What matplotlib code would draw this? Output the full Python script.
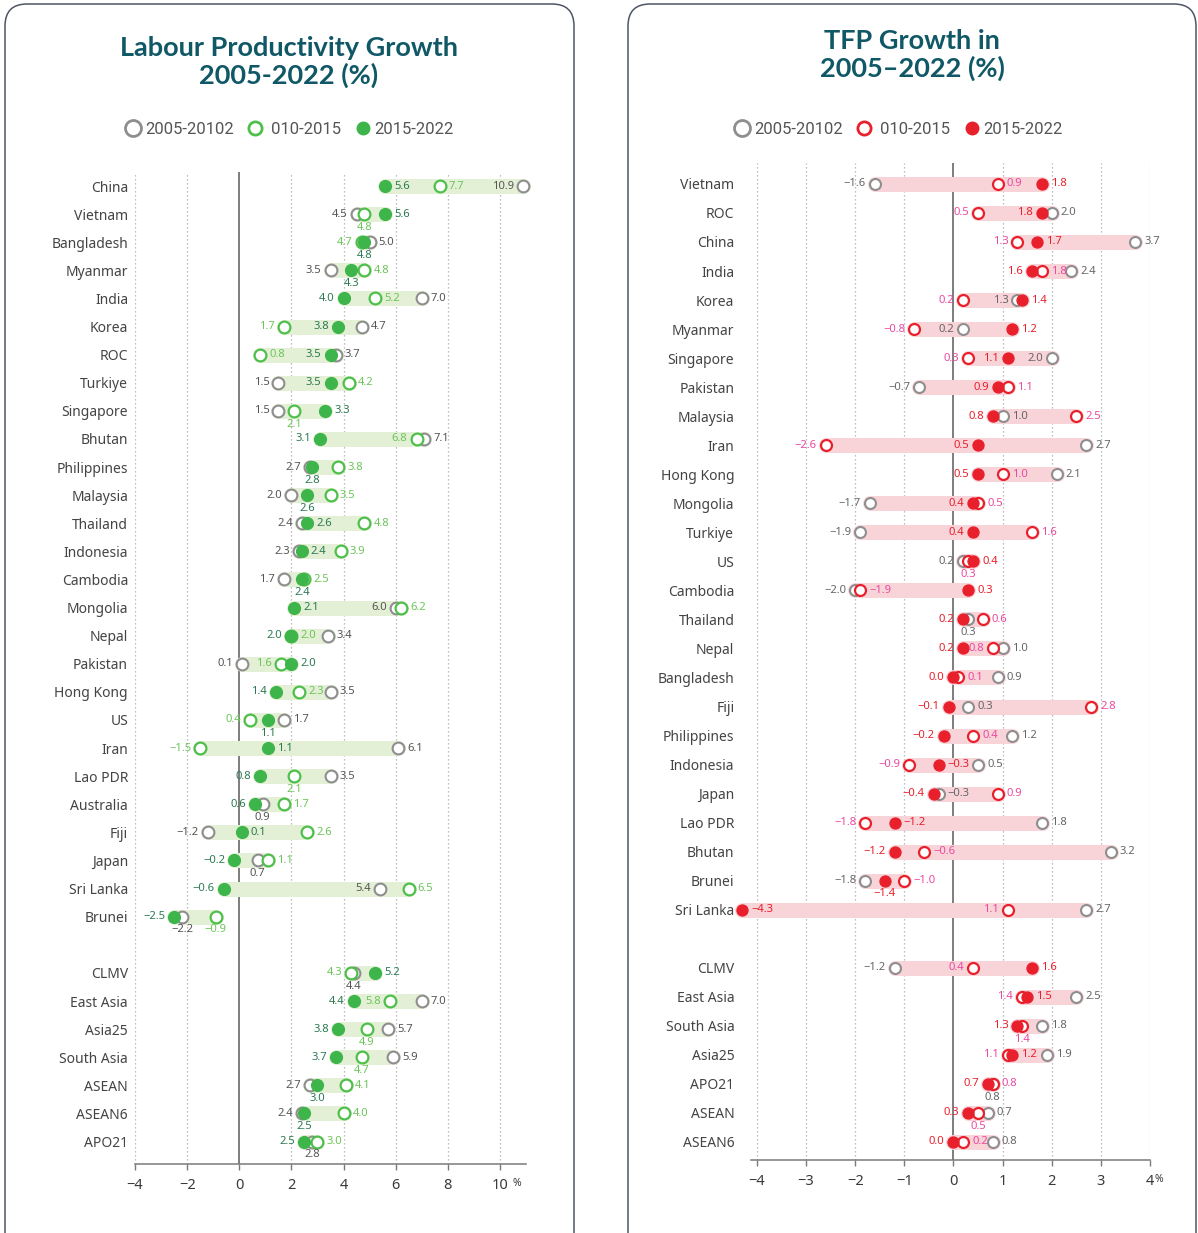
import matplotlib
matplotlib.use("Agg")
import matplotlib.pyplot as plt
from matplotlib.lines import Line2D
from matplotlib.patches import FancyBboxPatch
from matplotlib.transforms import IdentityTransform

# ---------------- Labour productivity growth (left) ----------------
lp_names = ["China", "Vietnam", "Bangladesh", "Myanmar", "India", "Korea", "ROC",
            "Turkiye", "Singapore", "Bhutan", "Philippines", "Malaysia", "Thailand",
            "Indonesia", "Cambodia", "Mongolia", "Nepal", "Pakistan", "Hong Kong",
            "US", "Iran", "Lao PDR", "Australia", "Fiji", "Japan", "Sri Lanka", "Brunei",
            "CLMV", "East Asia", "Asia25", "South Asia", "ASEAN", "ASEAN6", "APO21"]
lp_2005 = [10.9, 4.5, 5.0, 3.5, 7.0, 4.7, 3.7, 1.5, 1.5, 7.1, 2.7, 2.0, 2.4, 2.3, 1.7,
           6.0, 3.4, 0.1, 3.5, 1.7, 6.1, 3.5, 0.9, -1.2, 0.7, 5.4, -2.2,
           4.4, 7.0, 5.7, 5.9, 2.7, 2.4, 2.8]
lp_2010 = [7.7, 4.8, 4.7, 4.8, 5.2, 1.7, 0.8, 4.2, 2.1, 6.8, 3.8, 3.5, 4.8, 3.9, 2.5,
           6.2, 2.0, 1.6, 2.3, 0.4, -1.5, 2.1, 1.7, 2.6, 1.1, 6.5, -0.9,
           4.3, 5.8, 4.9, 4.7, 4.1, 4.0, 3.0]
lp_2015 = [5.6, 5.6, 4.8, 4.3, 4.0, 3.8, 3.5, 3.5, 3.3, 3.1, 2.8, 2.6, 2.6, 2.4, 2.4,
           2.1, 2.0, 2.0, 1.4, 1.1, 1.1, 0.8, 0.6, 0.1, -0.2, -0.6, -2.5,
           5.2, 4.4, 3.8, 3.7, 3.0, 2.5, 2.5]
lp_n_main = 27
# label side for (2005-10, 2010-15, 2015-22): l=left, r=right, b=below
lp_sides = ["lrr", "lbr", "rlb", "lrb", "rrl", "rll", "rrl", "lrl", "lbr", "rll",
            "lrb", "lrb", "lrr", "lrr", "lrb", "lrr", "rrl", "llr", "rrl", "rlb",
            "rlr", "rbl", "brl", "lrr", "brl", "lrl", "bbl",
            "blr", "rll", "rbl", "rbl", "lrb", "lrb", "brl"]

# ---------------- TFP growth (right) ----------------
tfp_names = ["Vietnam", "ROC", "China", "India", "Korea", "Myanmar", "Singapore",
             "Pakistan", "Malaysia", "Iran", "Hong Kong", "Mongolia", "Turkiye", "US",
             "Cambodia", "Thailand", "Nepal", "Bangladesh", "Fiji", "Philippines",
             "Indonesia", "Japan", "Lao PDR", "Bhutan", "Brunei", "Sri Lanka",
             "CLMV", "East Asia", "South Asia", "Asia25", "APO21", "ASEAN", "ASEAN6"]
tfp_2005 = [-1.6, 2.0, 3.7, 2.4, 1.3, 0.2, 2.0, -0.7, 1.0, 2.7, 2.1, -1.7, -1.9, 0.2,
            -2.0, 0.3, 1.0, 0.9, 0.3, 1.2, 0.5, -0.3, 1.8, 3.2, -1.8, 2.7,
            -1.2, 2.5, 1.8, 1.9, 0.8, 0.7, 0.8]
tfp_2010 = [0.9, 0.5, 1.3, 1.8, 0.2, -0.8, 0.3, 1.1, 2.5, -2.6, 1.0, 0.5, 1.6, 0.3,
            -1.9, 0.6, 0.8, 0.1, 2.8, 0.4, -0.9, 0.9, -1.8, -0.6, -1.0, 1.1,
            0.4, 1.4, 1.4, 1.1, 0.8, 0.5, 0.2]
tfp_2015 = [1.8, 1.8, 1.7, 1.6, 1.4, 1.2, 1.1, 0.9, 0.8, 0.5, 0.5, 0.4, 0.4, 0.4,
            0.3, 0.2, 0.2, 0.0, -0.1, -0.2, -0.3, -0.4, -1.2, -1.2, -1.4, -4.3,
            1.6, 1.5, 1.3, 1.2, 0.7, 0.3, 0.0]
tfp_n_main = 26
tfp_sides = ["lrr", "rll", "rlr", "rrl", "llr", "llr", "lll", "lrl", "rrl", "rll",
             "rrl", "lrl", "lrl", "lbr", "lrr", "brl", "rll", "rrl", "rrl", "rrl",
             "rlr", "rrl", "rlr", "rrl", "lrb", "rlr",
             "llr", "rlr", "rbl", "rlr", "brl", "rbl", "rrl"]

W, H = 1198, 1233
fig = plt.figure(figsize=(W / 100, H / 100), dpi=100)
fig.patch.set_facecolor("white")

LABEL_FONT = ["Noto Sans", "DejaVu Sans"]
TITLE_COLOR = "#115867"
GRAY = "#8e8e8e"


def fmt(v):
    s = f"{abs(v):.1f}"
    return ("\u2212" + s) if v < 0 else s


def draw_panel(ax, names, n_main, v05, v10, v15, sides, pal, xlim, ylim, ticks,
               msize, label_pad):
    ys = [i if i < n_main else i + 1 for i in range(len(names))]
    ax.set_xlim(*xlim)
    ax.set_ylim(*ylim)
    for t in ticks:
        if t == 0:
            ax.axvline(0, color="#5a5a5a", lw=1.1, zorder=1)
        else:
            ax.axvline(t, color="#a8a8a8", lw=0.9, ls=(0, (1, 2.2)), zorder=1)

    # range bars
    for y, a, b, c in zip(ys, v05, v10, v15):
        lo, hi = min(a, b, c), max(a, b, c)
        ax.plot([lo, hi], [y, y], color=pal["bar"], lw=10.8, solid_capstyle="round",
                zorder=2, clip_on=False)

    ax.scatter(v05, ys, s=msize, facecolor="white", edgecolor=GRAY, lw=1.5,
               zorder=3, clip_on=False)
    ax.scatter(v10, ys, s=msize, facecolor="white", edgecolor=pal["open"], lw=1.6,
               zorder=4, clip_on=False)
    ax.scatter(v15, ys, s=msize, color=pal["fill"], zorder=5, clip_on=False)

    # value labels
    styles = [(v05, pal["t05"], "normal"), (v10, pal["t10"], "normal"),
              (v15, pal["t15"], pal["w15"])]
    for k, (vals, col, wt) in enumerate(styles):
        for y, v, sd in zip(ys, vals, sides):
            side = sd[k]
            if side == "l":
                off, ha, va = (-6.5, 0), "right", "center"
            elif side == "r":
                off, ha, va = (6.5, 0), "left", "center"
            else:
                off, ha, va = (0, -9.5), "center", "center"
            ax.annotate(fmt(v), (v, y), xytext=off, textcoords="offset points",
                        ha=ha, va=va, fontsize=8.1, color=col, fontweight=wt,
                        family=LABEL_FONT, zorder=6, annotation_clip=False)

    ax.set_yticks(ys)
    ax.set_yticklabels(names, family=LABEL_FONT, fontsize=10, color="#444444")
    ax.tick_params(axis="y", length=0, pad=label_pad)
    ax.set_xticks(ticks)
    ax.set_xticklabels([fmt(t).replace(".0", "") for t in ticks],
                       family=LABEL_FONT, fontsize=10.5, color="#3a3a3a")
    ax.tick_params(axis="x", length=4, width=1, color="#7a7a7a", pad=6)
    for sp in ["top", "right", "left"]:
        ax.spines[sp].set_visible(False)
    ax.spines["bottom"].set_color("#7a7a7a")
    ax.spines["bottom"].set_linewidth(1.1)
    ax.set_facecolor("none")


# ---- panel frames
for x0, w in [(5, 569), (628, 568)]:
    fig.patches.append(FancyBboxPatch((x0, -30), w, H - 4 + 30,
                                      boxstyle="round,pad=0,rounding_size=22",
                                      transform=IdentityTransform(), fill=False,
                                      edgecolor="#4e5664", lw=1.1))

green = dict(bar="#e4f0d5", open="#4dbf4a", fill="#3db54a",
             t05="#555555", t10="#6cc55a", t15="#2b7a52", w15="bold")
red = dict(bar="#f8d3d8", open="#e8202b", fill="#e8202b",
           t05="#666666", t10="#ea4aa0", t15="#e8202b", w15="normal")

ax1 = fig.add_axes([135 / W, 1 - 1164 / H, 391 / W, (1164 - 172) / H])
draw_panel(ax1, lp_names, lp_n_main, lp_2005, lp_2010, lp_2015, lp_sides, green,
           (-4, 11), (34.8, -0.5), [-4, -2, 0, 2, 4, 6, 8, 10], 72, 5)
ax1.annotate("%", (10, 0), xycoords=("data", "axes fraction"), xytext=(9, -14),
             textcoords="offset points", fontsize=7.5, color="#3a3a3a",
             family=LABEL_FONT, va="center")

ax2 = fig.add_axes([751 / W, 1 - 1160 / H, 399 / W, (1160 - 163) / H])
draw_panel(ax2, tfp_names, tfp_n_main, tfp_2005, tfp_2010, tfp_2015, tfp_sides, red,
           (-4.122, 4.0), (33.62, -0.72), [-4, -3, -2, -1, 0, 1, 2, 3, 4], 62, 12)
ax2.annotate("%", (4, 0), xycoords=("data", "axes fraction"), xytext=(3, -14),
             textcoords="offset points", fontsize=7.5, color="#3a3a3a",
             family=LABEL_FONT, va="center")

# ---- titles
fig.text(289 / W, 1 - 62 / H, "Labour Productivity Growth\n2005-2022 (%)",
         ha="center", va="center", fontsize=19.5, fontweight="bold",
         color=TITLE_COLOR, family=["Lato", "DejaVu Sans"], linespacing=1.12)
fig.text(912 / W, 1 - 55 / H, "TFP Growth in\n2005\u20132022 (%)",
         ha="center", va="center", fontsize=19.5, fontweight="bold",
         color=TITLE_COLOR, family=["Lato", "DejaVu Sans"], linespacing=1.12)

# ---- legends
leg_labels = ["2005-20102", " 010-2015", "2015-2022"]
for cx, pal in [(290, green), (899, red)]:
    handles = [
        Line2D([], [], ls="none", marker="o", ms=11.5, mfc="white", mec=GRAY, mew=2.0),
        Line2D([], [], ls="none", marker="o", ms=9.5, mfc="white", mec=pal["open"], mew=2.0),
        Line2D([], [], ls="none", marker="o", ms=9, mfc=pal["fill"], mec=pal["fill"]),
    ]
    fig.legend(handles, leg_labels, loc="center", ncol=3, frameon=False,
               bbox_to_anchor=(cx / W, 1 - 129 / H), handlelength=0.8,
               handletextpad=0.3, columnspacing=0.9,
               prop=dict(family=["Roboto", "DejaVu Sans"], size=12),
               labelcolor="#555555")

fig.savefig("out.png", dpi=100)
